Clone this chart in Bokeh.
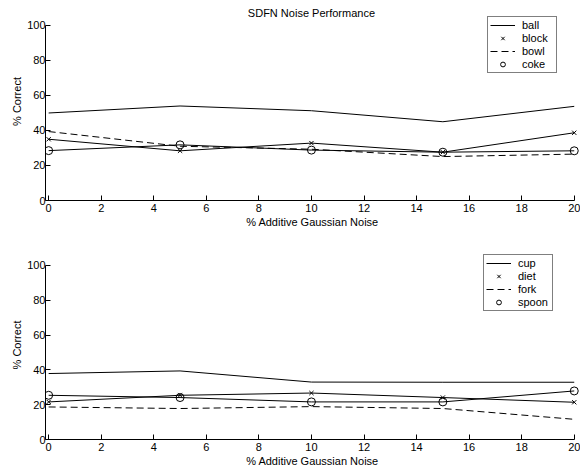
from bokeh.plotting import figure
from bokeh.layouts import column
from bokeh.models import Range1d, FixedTicker, Legend, LegendItem, Label
from bokeh.embed import file_html
from bokeh.resources import INLINE

noise = [0, 5, 10, 15, 20]

# top panel
ball = [50, 54, 51.3, 45, 53.8]
block = [35, 28.4, 32.8, 27.6, 38.7]
bowl = [39.4, 31, 29.3, 25.1, 26.5]
coke = [28.5, 31.8, 28.8, 27.6, 28.4]

# bottom panel
cup = [37.9, 39.4, 33, 32.9, 32.9]
diet = [21.6, 25.4, 26.7, 24.1, 21.4]
fork = [18.7, 17.8, 18.9, 17.8, 11.6]
spoon = [25.4, 24.1, 21.6, 21.6, 27.9]

x_ticks = [0, 2, 4, 6, 8, 10, 12, 14, 16, 18, 20]
y_ticks = [0, 20, 40, 60, 80, 100]

FONT = "Liberation Sans"
FS = "11px"
X0 = -0.12


def make_panel(names, series, height, top, bottom, y_end, legend_loc, title=None):
    p = figure(width=580, height=height, output_backend="svg", toolbar_location=None,
               x_range=Range1d(X0, 20.2), y_range=Range1d(0, y_end),
               min_border_left=45, min_border_right=1,
               min_border_top=top, min_border_bottom=bottom)
    p.outline_line_color = None
    p.xgrid.grid_line_color = None
    p.ygrid.grid_line_color = None
    for ax, ticks in ((p.xaxis[0], x_ticks), (p.yaxis[0], y_ticks)):
        ax.ticker = FixedTicker(ticks=ticks)
        ax.major_tick_in = 5
        ax.major_tick_out = 0
        ax.minor_tick_in = 0
        ax.minor_tick_out = 0
        ax.axis_line_color = "black"
        ax.major_tick_line_color = "black"
        ax.major_label_text_font = FONT
        ax.major_label_text_font_size = FS
        ax.major_label_text_color = "black"
        ax.axis_label_text_font = FONT
        ax.axis_label_text_font_size = FS
        ax.axis_label_text_font_style = "normal"
        ax.axis_label_text_color = "black"
    p.yaxis.bounds = (0, 100)
    p.xaxis.bounds = (X0, 20)
    p.xaxis.axis_label = "% Additive Gaussian Noise"
    p.yaxis.axis_label = "% Correct"
    p.xaxis.major_label_standoff = 3
    p.xaxis.axis_label_standoff = 1
    p.yaxis.major_label_standoff = 0
    p.yaxis.axis_label_standoff = 1

    if title:
        p.add_layout(Label(x=10, y=100, y_offset=12, text=title, text_align="center",
                           text_baseline="middle", text_font=FONT,
                           text_font_size=FS, text_color="black"))

    n0, n1, n2, n3 = names
    s0, s1, s2, s3 = series
    r0 = p.line(noise, s0, line_color="black", line_width=1)
    p.line(noise, s1, line_color="black", line_width=1)
    r1 = p.scatter(noise, s1, marker="x", size=6, line_color="black", line_width=1)
    r2 = p.line(noise, s2, line_color="black", line_width=1, line_dash="7 4")
    p.line(noise, s3, line_color="black", line_width=1)
    r3 = p.scatter(noise, s3, marker="circle", size=8, line_color="black",
                   fill_color=None, line_width=1)

    legend = Legend(items=[LegendItem(label=n0, renderers=[r0]),
                           LegendItem(label=n1, renderers=[r1]),
                           LegendItem(label=n2, renderers=[r2]),
                           LegendItem(label=n3, renderers=[r3])],
                    location=legend_loc)
    legend.border_line_color = "black"
    legend.border_line_width = 1
    legend.background_fill_alpha = 1
    legend.padding = 2
    legend.margin = 0
    legend.spacing = 1
    legend.glyph_width = 25
    legend.glyph_height = 12
    legend.label_height = 12
    legend.label_width = 32
    legend.label_standoff = 7
    legend.label_text_font = FONT
    legend.label_text_font_size = FS
    legend.label_text_color = "black"
    p.add_layout(legend, "center")
    return p


p1 = make_panel(["ball", "block", "bowl", "coke"], [ball, block, bowl, coke],
                240, 2, 40, 113.14, (442, 127), title="SDFN Noise Performance")
p2 = make_panel(["cup", "diet", "fork", "spoon"], [cup, diet, fork, spoon],
                230, 10, 31, 108.6, (438, 128))

layout = column(p1, p2, spacing=0)
open("out.html", "w").write(file_html(layout, INLINE))
